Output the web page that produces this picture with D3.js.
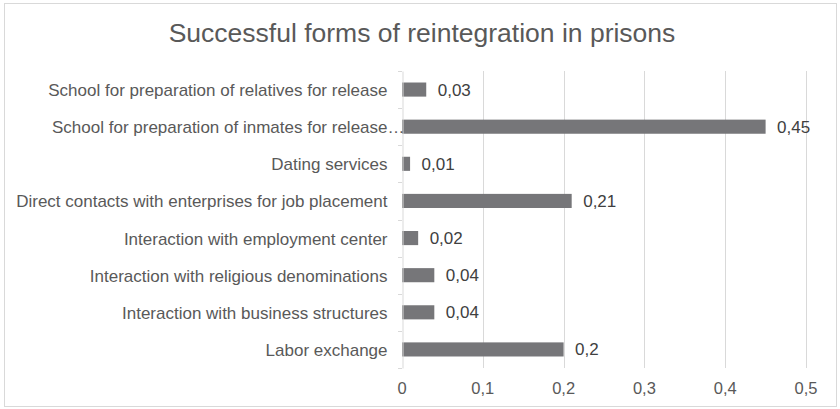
<!DOCTYPE html>
<html><head><meta charset="utf-8">
<script src="https://cdn.jsdelivr.net/npm/d3@7"></script>
<style>body{margin:0;background:#fff;}svg{display:block;font-family:"Liberation Sans",Arial,sans-serif;}</style>
</head><body><svg id="c" width="840" height="409"></svg>
<script>
const categories = [
  "School for preparation of relatives for release",
  "School for preparation of inmates for release…",
  "Dating services",
  "Direct contacts with enterprises for job placement",
  "Interaction with employment center",
  "Interaction with religious denominations",
  "Interaction with business structures",
  "Labor exchange"
];
const values = [0.03, 0.45, 0.01, 0.21, 0.02, 0.04, 0.04, 0.2];
const xTicks = [0, 0.1, 0.2, 0.3, 0.4, 0.5];
const title = "Successful forms of reintegration in prisons";

const svg = d3.select("#c");
svg.append("rect").attr("x",4.5).attr("y",3.5).attr("width",832).attr("height",403)
  .attr("fill","#fff").attr("stroke","#d9d9d9");
svg.append("text").attr("x",422).attr("y",42).attr("text-anchor","middle")
  .attr("font-size",26.5).attr("fill","#595959").text(title);

const m = {l:402, r:806, t:71, b:368};
const x = d3.scaleLinear().domain([0,0.5]).range([m.l,m.r]);
const y = d3.scaleBand().domain(categories).range([m.t,m.b]).paddingInner(0.62).paddingOuter(0.31);
const yb = d3.scaleBand().domain(categories).range([m.t,m.b]);
const fmt = d => String(d).replace(".", ",");

// gridlines
svg.append("g").selectAll("line").data(xTicks.slice(1)).join("line")
  .attr("x1",d=>Math.round(x(d))+0.5).attr("x2",d=>Math.round(x(d))+0.5)
  .attr("y1",m.t).attr("y2",m.b).attr("stroke","#d9d9d9");

// x tick labels
svg.append("g").selectAll("text").data(xTicks).join("text")
  .attr("x",d=>x(d)).attr("y",394).attr("text-anchor","middle")
  .attr("font-size",16.5).attr("fill","#595959").text(fmt);

// bars
svg.append("g").selectAll("rect").data(values).join("rect")
  .attr("x",x(0)).attr("y",(d,i)=>y(categories[i]))
  .attr("width",d=>x(d)-x(0)).attr("height",y.bandwidth())
  .attr("fill","#767679");

// value labels
svg.append("g").selectAll("text").data(values).join("text")
  .attr("x",d=>x(d)+11.5).attr("y",(d,i)=>y(categories[i])+y.bandwidth()/2+6)
  .attr("font-size",17).attr("fill","#404040").text(fmt);

// y axis
const ya = svg.append("g").attr("transform",`translate(${m.l+0.5},0)`)
  .call(d3.axisLeft(yb).tickSize(0).tickPadding(15));
ya.select(".domain").attr("stroke","#d9d9d9");
ya.selectAll("text").attr("font-size",17).attr("fill","#595959").attr("dy","0.38em")
  .attr("font-family","Liberation Sans, Arial, sans-serif");
// let the ellipsis overhang like the reference
ya.selectAll("text").filter(d=>d.endsWith("…")).each(function(){
  const t = svg.append("text").attr("font-size",17).text("…");
  const w = t.node().getComputedTextLength(); t.remove();
  d3.select(this).attr("dx", w);
});
// category separator ticks
const seps = categories.map(c=>yb(c)).concat([m.b]);
svg.append("g").selectAll("line").data(seps).join("line")
  .attr("x1",m.l-4).attr("x2",m.l).attr("y1",d=>Math.round(d)+0.5).attr("y2",d=>Math.round(d)+0.5)
  .attr("stroke","#d9d9d9");
</script></body></html>
